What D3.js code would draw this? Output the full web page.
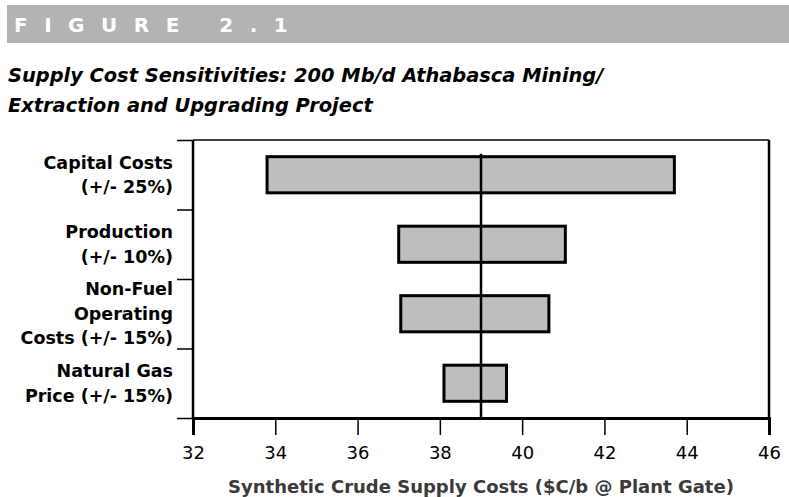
<!DOCTYPE html>
<html>
<head>
<meta charset="utf-8">
<script src="https://d3js.org/d3.v7.min.js"></script>
<style>
    body { margin: 0; background-color: #fff; }
    svg { display: block; }
</style>
</head>
<body>
<svg width="789" height="497"></svg>
<script>
    // sensitivity ranges ($C/b)
    var categories = ["Capital Costs", "Production", "Non-Fuel Operating Costs", "Natural Gas Price"];
    var labelLines = [
        ["Capital Costs", "(+/- 25%)"],
        ["Production", "(+/- 10%)"],
        ["Non-Fuel", "Operating", "Costs (+/- 15%)"],
        ["Natural Gas", "Price (+/- 15%)"]
    ];
    var lowValues = [33.8, 37.0, 37.05, 38.1];
    var highValues = [43.7, 41.05, 40.65, 39.62];
    var baseCase = 39.0;
    var xTicks = [32, 34, 36, 38, 40, 42, 44, 46];

    var svg = d3.select("svg"),
        margin = {top: 140, right: 20, bottom: 79, left: 193},
        width = +svg.attr("width") - margin.left - margin.right,
        height = +svg.attr("height") - margin.top - margin.bottom;

    var labelFont = "'DejaVu Sans', sans-serif";

    // figure banner
    svg.append("rect")
        .attr("x", 7).attr("y", 5)
        .attr("width", 782).attr("height", 38)
        .attr("fill", "#b3b3b3");
    svg.append("text")
        .attr("x", 14).attr("y", 32)
        .attr("fill", "#fff")
        .style("font", "bold 20px " + labelFont)
        .style("letter-spacing", "16.5px")
        .text("FIGURE 2.1");

    var title = svg.append("g").style("font", "italic bold 19.4px " + labelFont);
    title.append("text").attr("x", 8).attr("y", 82)
        .text("Supply Cost Sensitivities: 200 Mb/d Athabasca Mining/");
    title.append("text").attr("x", 8).attr("y", 112)
        .text("Extraction and Upgrading Project");

    var g = svg.append("g").attr("transform", "translate(" + margin.left + "," + margin.top + ")");

    var x = d3.scaleLinear().domain([32, 46]).range([0, width]);
    var y = d3.scaleBand().domain(categories).range([0, height]).paddingInner(0.48).paddingOuter(0.24);
    var yEdge = d3.scaleLinear().domain([0, categories.length]).range([0, height]);

    // frame: thin top, heavy right
    g.append("line").attr("x1", 0).attr("x2", width).attr("y1", 0).attr("y2", 0)
        .attr("stroke", "#000").attr("stroke-width", 1.5);
    g.append("line").attr("x1", width).attr("x2", width).attr("y1", 0).attr("y2", height)
        .attr("stroke", "#000").attr("stroke-width", 2.5);

    // bars
    g.selectAll(".bar")
        .data(categories)
        .enter().append("rect")
        .attr("class", "bar")
        .attr("x", function(d, i) { return x(lowValues[i]); })
        .attr("width", function(d, i) { return x(highValues[i]) - x(lowValues[i]); })
        .attr("y", function(d) { return y(d); })
        .attr("height", y.bandwidth())
        .attr("fill", "#bdbebf")
        .attr("stroke", "#000")
        .attr("stroke-width", 3);

    // base case line
    g.append("line")
        .attr("x1", x(baseCase)).attr("x2", x(baseCase))
        .attr("y1", y(categories[0]) - 3).attr("y2", height)
        .attr("stroke", "#000").attr("stroke-width", 2.5);

    // x axis
    var xAxis = g.append("g")
        .attr("transform", "translate(0," + height + ")")
        .call(d3.axisBottom(x).tickValues(xTicks).tickSize(17).tickPadding(11).tickFormat(d3.format("d")));
    xAxis.select(".domain").attr("stroke-width", 3);
    xAxis.selectAll(".tick line").attr("stroke-width", 1.5);
    xAxis.selectAll(".tick text")
        .attr("fill", "#000")
        .style("font", "18px " + labelFont);

    // y axis with ticks between categories
    var yAxis = g.append("g")
        .call(d3.axisLeft(yEdge).tickValues(d3.range(categories.length + 1)).tickSize(16).tickFormat(""));
    yAxis.select(".domain").attr("stroke-width", 2.5).attr("d", "M0,0V" + height);
    yAxis.selectAll(".tick line").attr("stroke-width", 1.5);

    // category labels
    var lineH = 24.5;
    g.selectAll(".cat")
        .data(categories)
        .enter().append("text")
        .attr("class", "cat")
        .attr("text-anchor", "end")
        .style("font", "bold 17.5px " + labelFont)
        .each(function(d, i) {
            var lines = labelLines[i];
            var cy = y(d) + y.bandwidth() / 2;
            var start = cy - (lines.length - 1) * lineH / 2;
            d3.select(this).selectAll("tspan")
                .data(lines)
                .enter().append("tspan")
                .attr("x", -20)
                .attr("y", function(t, j) { return start + j * lineH; })
                .attr("dy", "0.35em")
                .text(function(t) { return t; });
        });

    // x axis title
    svg.append("text")
        .attr("x", margin.left + width / 2)
        .attr("y", 493)
        .attr("text-anchor", "middle")
        .attr("fill", "#3a3a3a")
        .style("font", "bold 18px " + labelFont)
        .text("Synthetic Crude Supply Costs ($C/b @ Plant Gate)");
</script>
</body>
</html>
